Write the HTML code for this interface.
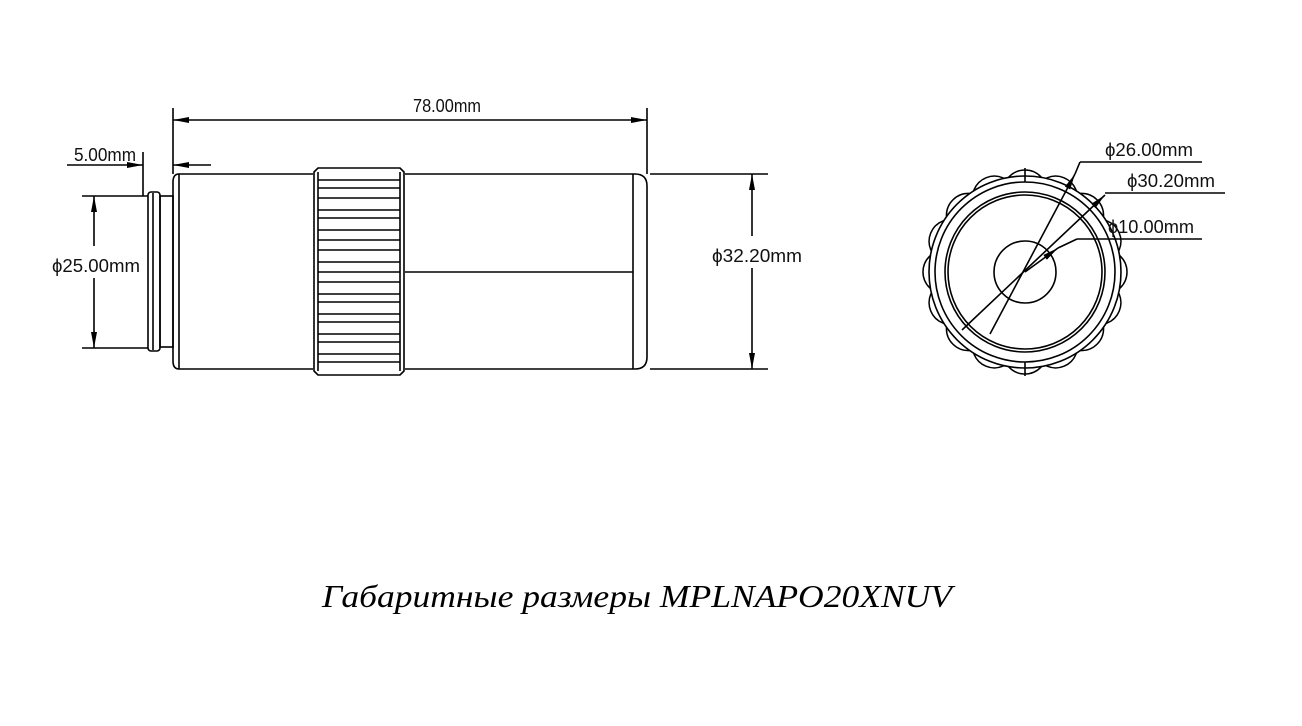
<!DOCTYPE html>
<html><head><meta charset="utf-8"><style>
html,body{margin:0;padding:0;background:#fff;}
svg{display:block}
.t{font-family:"Liberation Sans",sans-serif;font-size:18px;fill:#111}
</style></head><body>
<svg width="1302" height="726" viewBox="0 0 1302 726" xmlns="http://www.w3.org/2000/svg">
<defs>
<marker id="a" viewBox="0 0 16 6" refX="16" refY="3" markerWidth="16" markerHeight="6" orient="auto-start-reverse" markerUnits="userSpaceOnUse"><path d="M0,0 L16,3 L0,6 Z" fill="#000"/></marker>
<circle id="bump" cx="1025" cy="192" r="22" fill="#fff" stroke="#000" stroke-width="1.5"/>
</defs>
<g stroke="#000" stroke-width="1.6" fill="none">
<rect x="148" y="192" width="12" height="159" rx="3"/>
<line x1="153" y1="193" x2="153" y2="350"/>
<rect x="160" y="196" width="13" height="151"/>
<path d="M179,174 L313,174 M179,369 L313,369 M179,174 Q173,174 173,182 L173,361 Q173,369 179,369"/>
<line x1="179" y1="174" x2="179" y2="369"/>
<path d="M405,174 L635,174 Q647,174 647,186 L647,357 Q647,369 635,369 L405,369"/>
<line x1="633" y1="174" x2="633" y2="369"/>
<line x1="405" y1="272" x2="633" y2="272"/>
<path d="M318,168 L400,168 L404,172 L404,371 L400,375 L318,375 L314,371 L314,172 Z"/>
<line x1="318" y1="172" x2="318" y2="371"/>
<line x1="400" y1="172" x2="400" y2="371"/>
<g stroke-width="1.4">
<path d="M318,180 H400 M318,188 H400"/>
<path d="M318,198 H400 M318,210 H400 M318,218 H400 M318,230 H400 M318,240 H400 M318,250 H400 M318,262 H400 M318,272 H400 M318,282 H400 M318,294 H400 M318,302 H400 M318,314 H400 M318,322 H400 M318,334 H400 M318,342 H400 M318,354 H400 M318,362 H400"/>
</g>
<line x1="173" y1="108" x2="173" y2="174"/>
<line x1="647" y1="108" x2="647" y2="174"/>
<line x1="173" y1="120" x2="647" y2="120" marker-start="url(#a)" marker-end="url(#a)"/>
<line x1="143" y1="152" x2="143" y2="196"/>
<line x1="67" y1="165" x2="143" y2="165" marker-end="url(#a)"/>
<line x1="211" y1="165" x2="173" y2="165" marker-end="url(#a)"/>
<line x1="82" y1="196" x2="148" y2="196"/>
<line x1="82" y1="348" x2="148" y2="348"/>
<line x1="94" y1="196" x2="94" y2="246" marker-start="url(#a)"/>
<line x1="94" y1="278" x2="94" y2="348" marker-end="url(#a)"/>
<line x1="650" y1="174" x2="768" y2="174"/>
<line x1="650" y1="369" x2="768" y2="369"/>
<line x1="752" y1="174" x2="752" y2="236" marker-start="url(#a)"/>
<line x1="752" y1="268" x2="752" y2="369" marker-end="url(#a)"/>
</g>
<g>
<use href="#bump" transform="rotate(0 1025 272)"/>
<use href="#bump" transform="rotate(22.5 1025 272)"/>
<use href="#bump" transform="rotate(45 1025 272)"/>
<use href="#bump" transform="rotate(67.5 1025 272)"/>
<use href="#bump" transform="rotate(90 1025 272)"/>
<use href="#bump" transform="rotate(112.5 1025 272)"/>
<use href="#bump" transform="rotate(135 1025 272)"/>
<use href="#bump" transform="rotate(157.5 1025 272)"/>
<use href="#bump" transform="rotate(180 1025 272)"/>
<use href="#bump" transform="rotate(202.5 1025 272)"/>
<use href="#bump" transform="rotate(225 1025 272)"/>
<use href="#bump" transform="rotate(247.5 1025 272)"/>
<use href="#bump" transform="rotate(270 1025 272)"/>
<use href="#bump" transform="rotate(292.5 1025 272)"/>
<use href="#bump" transform="rotate(315 1025 272)"/>
<use href="#bump" transform="rotate(337.5 1025 272)"/>
<circle cx="1025" cy="272" r="96" fill="#fff" stroke="#000" stroke-width="1.6"/>
</g>
<g stroke="#000" stroke-width="1.6" fill="none">
<circle cx="1025" cy="272" r="90"/>
<circle cx="1025" cy="272" r="80"/>
<circle cx="1025" cy="272" r="77"/>
<circle cx="1025" cy="272" r="31"/>
<line x1="1025" y1="168" x2="1025" y2="182"/>
<line x1="1025" y1="362" x2="1025" y2="376"/>
<line x1="990" y1="334" x2="1075" y2="174" marker-end="url(#a)"/>
<line x1="1075" y1="174" x2="1080" y2="162"/>
<line x1="1080" y1="162" x2="1202" y2="162"/>
<line x1="962" y1="330" x2="1105" y2="195" marker-end="url(#a)"/>
<line x1="1105" y1="193" x2="1225" y2="193"/>
<line x1="1025" y1="272" x2="1058" y2="248" marker-end="url(#a)"/>
<line x1="1058" y1="248" x2="1077" y2="239"/>
<line x1="1077" y1="239" x2="1202" y2="239"/>
</g>
<g class="t">
<text x="413" y="112" textLength="68" lengthAdjust="spacingAndGlyphs">78.00mm</text>
<text x="74" y="161" textLength="62" lengthAdjust="spacingAndGlyphs">5.00mm</text>
<text x="52" y="272" textLength="88" lengthAdjust="spacingAndGlyphs">ϕ25.00mm</text>
<text x="712" y="262" textLength="90" lengthAdjust="spacingAndGlyphs">ϕ32.20mm</text>
<text x="1105" y="156" textLength="88" lengthAdjust="spacingAndGlyphs">ϕ26.00mm</text>
<text x="1127" y="187" textLength="88" lengthAdjust="spacingAndGlyphs">ϕ30.20mm</text>
<text x="1108" y="233" textLength="86" lengthAdjust="spacingAndGlyphs">ϕ10.00mm</text>
</g>
<text x="322" y="607" textLength="630" lengthAdjust="spacingAndGlyphs" style="font-family:'Liberation Serif',serif;font-style:italic;font-size:32px;fill:#000">Габаритные размеры MPLNAPO20XNUV</text>
</svg>
</body></html>
